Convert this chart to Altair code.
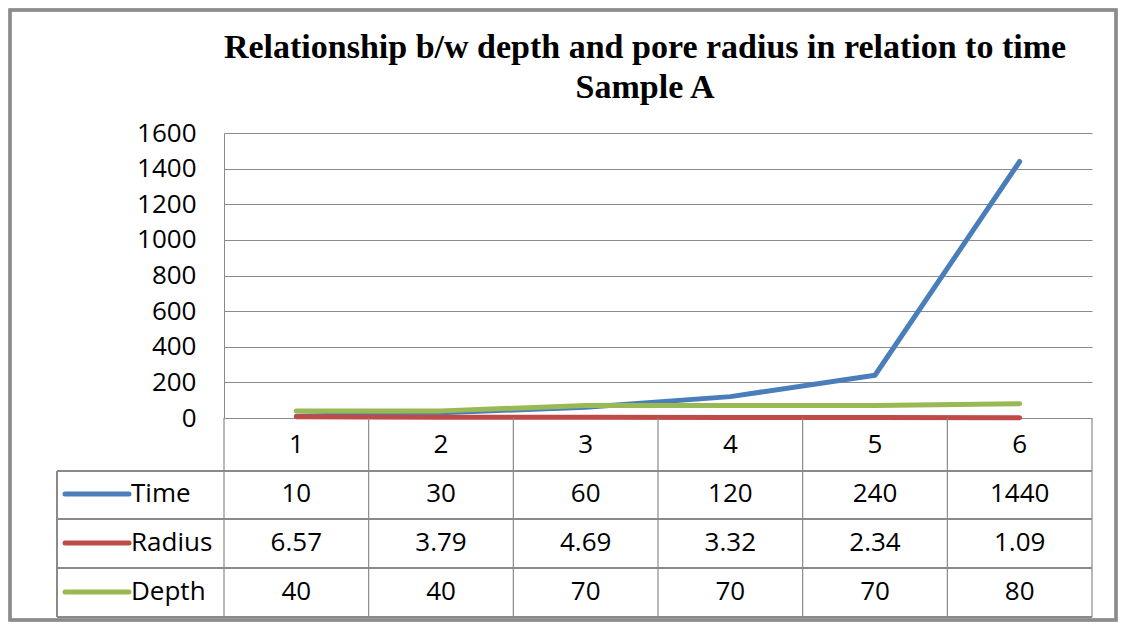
import altair as alt
import pandas as pd

categories = [1, 2, 3, 4, 5, 6]
series_names = ["Time", "Radius", "Depth"]
time_vals = [10, 30, 60, 120, 240, 1440]
radius_vals = [6.57, 3.79, 4.69, 3.32, 2.34, 1.09]
depth_vals = [40, 40, 70, 70, 70, 80]
series_colors = ["#4A7EBB", "#BE4B48", "#98B954"]
y_ticks = [0, 200, 400, 600, 800, 1000, 1200, 1400, 1600]

title_lines = ["Relationship b/w depth and pore radius in relation to time", "Sample A"]

W, H = 868, 285
FONT = "Open Sans"
GRID = "#8a8a8a"

# long-form line data
rows = []
for name, vals in zip(series_names, [time_vals, radius_vals, depth_vals]):
    for c, v in zip(categories, vals):
        rows.append({"series": name, "cat": c, "value": v, "label": str(v),
                     "row": series_names.index(name) + 1})
df = pd.DataFrame(rows)

header = pd.DataFrame({"cat": categories, "label": [str(c) for c in categories], "row": 0})
legend_df = pd.DataFrame({"series": series_names, "row": [1, 2, 3]})
bounds = pd.DataFrame({"b": [c - 0.5 for c in categories] + [categories[-1] + 0.5]})

xscale = alt.Scale(domain=[categories[0] - 0.5, categories[-1] + 0.5], nice=False, zero=False)
rowscale = alt.Scale(domain=[0, 3], range=[312, 459])
cscale = alt.Scale(domain=series_names, range=series_colors)

lines = alt.Chart(df).mark_line(strokeWidth=5, strokeCap="round", strokeJoin="round").encode(
    x=alt.X("cat:Q", scale=xscale, axis=None),
    y=alt.Y("value:Q", scale=alt.Scale(domain=[0, 1600], nice=False),
            axis=alt.Axis(values=y_ticks, format="d", title=None, ticks=False, domain=True,
                          domainColor=GRID, grid=True, gridColor=GRID, gridWidth=1.2,
                          labelFont=FONT, labelFontSize=26, labelColor="#000000",
                          labelPadding=28)),
    color=alt.Color("series:N", scale=cscale, legend=None),
    order=alt.Order("cat:Q"),
)

# table vertical lines
vlines = alt.Chart(bounds).mark_rule(color=GRID, strokeWidth=1.2).encode(
    x=alt.X("b:Q", scale=xscale, axis=None),
    y=alt.value(H), y2=alt.value(484),
)
left_line = alt.Chart(bounds).mark_rule(color=GRID, strokeWidth=1.2).encode(
    x=alt.value(-167), y=alt.value(338), y2=alt.value(484)
)
hline_rows = []
for yy, x0 in [(338, -167), (386, -167), (435, -167), (484, -167)]:
    hline_rows.append(alt.Chart(bounds).mark_rule(color=GRID, strokeWidth=1.2).encode(
        x=alt.value(x0), x2=alt.value(W), y=alt.value(yy)))

header_text = alt.Chart(header).mark_text(font=FONT, fontSize=26, color="#000000").encode(
    x=alt.X("cat:Q", scale=xscale, axis=None),
    y=alt.Y("row:Q", scale=rowscale, axis=None),
    text="label:N",
)
cell_text = alt.Chart(df).mark_text(font=FONT, fontSize=26, color="#000000").encode(
    x=alt.X("cat:Q", scale=xscale, axis=None),
    y=alt.Y("row:Q", scale=rowscale, axis=None),
    text="label:N",
)
legend_lines = alt.Chart(legend_df).mark_rule(strokeWidth=5, strokeCap="round").encode(
    x=alt.value(-159), x2=alt.value(-95),
    y=alt.Y("row:Q", scale=rowscale, axis=None),
    color=alt.Color("series:N", scale=cscale, legend=None),
)
legend_text = alt.Chart(legend_df).mark_text(font=FONT, fontSize=26, color="#000000",
                                             align="left").encode(
    x=alt.value(-93),
    y=alt.Y("row:Q", scale=rowscale, axis=None),
    text="series:N",
)
frame = alt.Chart(legend_df).mark_rect(fillOpacity=0, stroke="#8c8c8c", strokeWidth=3).encode(
    x=alt.value(-214), x2=alt.value(892), y=alt.value(-123), y2=alt.value(487)
)

chart = alt.layer(
    frame, lines, vlines, left_line, *hline_rows, header_text, cell_text, legend_lines, legend_text
).resolve_scale(y="independent").properties(
    width=W, height=H,
    autosize=alt.AutoSizeParams(type="none"),
    padding={"left": 216, "top": 125, "right": 26, "bottom": 204},
    title=alt.Title(text=title_lines, font="Liberation Serif", fontSize=34, fontWeight="bold",
                    color="#000000", lineHeight=40, anchor="middle", frame="group",
                    offset=0, dy=96, dx=-13),
    background="white",
).configure_view(stroke=None)

chart.save("out.html", embed_options={"renderer": "svg", "actions": False})
